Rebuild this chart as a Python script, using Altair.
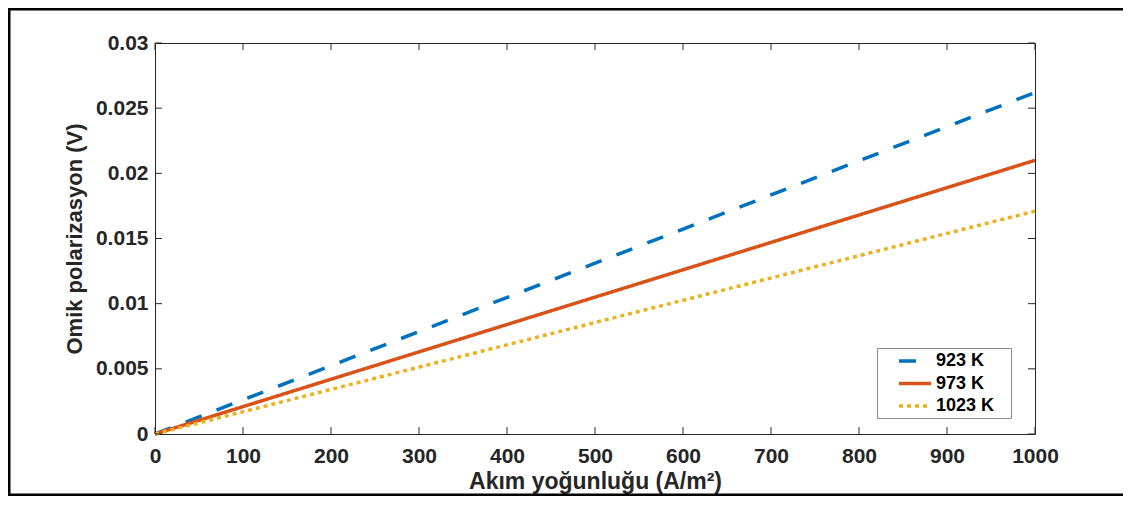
import altair as alt
import pandas as pd

# ---- data ----
temps = ["923 K", "973 K", "1023 K"]
current = [0, 1000]                      # A/m^2 (straight lines through origin)
v_923 = [0.0, 0.0262]                    # V
v_973 = [0.0, 0.0210]
v_1023 = [0.0, 0.0171]
x_ticks = [0, 100, 200, 300, 400, 500, 600, 700, 800, 900, 1000]
y_ticks = [0, 0.005, 0.01, 0.015, 0.02, 0.025, 0.03]

colors = ["#0072BD", "#D95319", "#EDB120"]
dashes = [[17, 16], [1, 0], [4, 4]]

rows = []
for t, vals in zip(temps, [v_923, v_973, v_1023]):
    for c, v in zip(current, vals):
        rows.append({"temp": t, "current": c, "v": v, "order": temps.index(t)})
df = pd.DataFrame(rows)
xt = pd.DataFrame({"t": x_ticks})
yt = pd.DataFrame({"t": y_ticks})
one = pd.DataFrame({"k": [0]})

FONT = "Liberation Sans"
W, H = 880, 391
xscale = alt.Scale(domain=[0, 1000], nice=False, zero=False)
yscale = alt.Scale(domain=[0, 0.03], nice=False, zero=False)

xaxis = alt.Axis(title="Akım yoğunluğu (A/m²)", values=x_ticks, ticks=False, tickSize=0,
                 domain=False, grid=False, labelPadding=11, titlePadding=4,
                 labelFlush=False, format="d")
yaxis = alt.Axis(title="Omik polarizasyon (V)", values=y_ticks, ticks=False, tickSize=0,
                 domain=False, grid=False, labelPadding=7, titlePadding=9, format=".3~f",
                 titleFontSize=22)

legend = alt.Legend(
    title=None, orient="none", legendX=722, legendY=305,
    symbolType="M-1,0H3", symbolSize=256, symbolStrokeWidth=3.5,
    labelFont=FONT, labelFontSize=18, labelFontWeight="bold", labelColor="#000000",
    labelOffset=19, padding=3, rowPadding=3.5, symbolOffset=17,
    strokeColor="#8c8c8c", fillColor="white",
    labelExpr="datum.label + '\u2800'",
)

lines = alt.Chart(df).mark_line(strokeWidth=3.5, strokeCap="butt").encode(
    x=alt.X("current:Q", scale=xscale, axis=xaxis),
    y=alt.Y("v:Q", scale=yscale, axis=yaxis),
    color=alt.Color("temp:N", scale=alt.Scale(domain=temps, range=colors), legend=legend),
    strokeDash=alt.StrokeDash("temp:N", scale=alt.Scale(domain=temps, range=dashes), legend=legend),
    order=alt.Order("order:Q"),
)

tick_color = "#262626"
bottom_ticks = alt.Chart(xt).mark_rule(color=tick_color, strokeWidth=1).encode(
    x=alt.X("t:Q", scale=xscale, axis=xaxis), y=alt.value(H), y2=alt.value(H - 7))
top_ticks = alt.Chart(xt).mark_rule(color=tick_color, strokeWidth=1).encode(
    x=alt.X("t:Q", scale=xscale, axis=xaxis), y=alt.value(0), y2=alt.value(7))
left_ticks = alt.Chart(yt).mark_rule(color=tick_color, strokeWidth=1).encode(
    y=alt.Y("t:Q", scale=yscale, axis=yaxis), x=alt.value(0), x2=alt.value(7))
right_ticks = alt.Chart(yt).mark_rule(color=tick_color, strokeWidth=1).encode(
    y=alt.Y("t:Q", scale=yscale, axis=yaxis), x=alt.value(W), x2=alt.value(W - 7))

# outer figure frame (top, left, bottom edges; right edge lies off the page)
frame_top = alt.Chart(one).mark_rule(color="#000000", strokeWidth=3).encode(
    x=alt.value(-147.5), x2=alt.value(968), y=alt.value(-34))
frame_bottom = alt.Chart(one).mark_rule(color="#000000", strokeWidth=3).encode(
    x=alt.value(-147.5), x2=alt.value(968), y=alt.value(452))
frame_left = alt.Chart(one).mark_rule(color="#000000", strokeWidth=3).encode(
    x=alt.value(-146), y=alt.value(-35.5), y2=alt.value(453.5))

chart = alt.layer(lines, bottom_ticks, top_ticks, left_ticks, right_ticks,
                  frame_top, frame_bottom, frame_left).properties(
    width=W, height=H,
    autosize=alt.AutoSizeParams(type="none"),
    padding={"left": 147, "top": 35, "right": 89, "bottom": 62},
    background="white",
).configure_view(stroke="#262626", strokeWidth=1).configure_axis(
    labelFont=FONT, labelFontSize=21, labelFontWeight="bold", labelColor="#262626",
    titleFont=FONT, titleFontSize=23, titleFontWeight="bold", titleColor="#262626",
)

chart.save("out.html", embed_options={"renderer": "svg", "actions": False})
